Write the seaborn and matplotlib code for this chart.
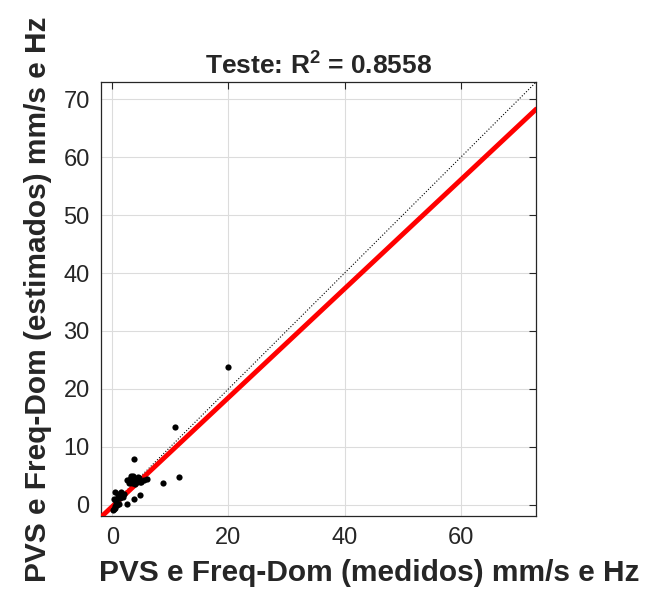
import numpy as np
import pandas as pd
import matplotlib
matplotlib.use("Agg")
import matplotlib.pyplot as plt
import seaborn as sns

medidos = [20.0, 10.7, 11.5, 8.8, 3.8, 4.7, 3.7, 2.5,
           2.6, 3.0, 3.3, 3.6, 4.0, 4.3, 4.6, 5.0, 5.5, 6.0, 3.2, 3.9, 4.4, 2.9, 3.5, 4.8,
           0.5, 1.5, 0.3, 0.6, 0.9, 1.2, 0.4, 0.8, 1.0, 0.2, 0.5, 1.3, 0.7, 0.1, 2.0, 1.8]
estimados = [23.7, 13.5, 4.7, 3.7, 7.9, 1.7, 1.0, 0.1,
             4.2, 4.5, 3.8, 4.9, 4.4, 3.9, 4.6, 4.0, 4.2, 4.4, 5.0, 3.6, 4.8, 3.7, 4.3, 3.9,
             2.2, 2.2, 1.0, 0.5, 1.5, 0.2, -0.5, 0.0, 1.8, -0.8, -0.2, 1.1, 0.8, -1.0, 1.9, 1.3]
fit_slope = 0.94
fit_intercept = -0.3
r2 = 0.8558
lims = [-2, 73]

df = pd.DataFrame({"medidos": medidos, "estimados": estimados})

sns.set_style("white")
plt.rcParams["font.family"] = ["Liberation Sans", "DejaVu Sans"]
plt.rcParams["mathtext.fontset"] = "custom"
plt.rcParams["mathtext.rm"] = "Liberation Sans"
plt.rcParams["mathtext.bf"] = "Liberation Sans:bold"

fig = plt.figure(figsize=(6.46, 5.90), dpi=100)
ax = fig.add_axes([0.156, 0.125, 0.674, 0.736])

x_line = np.array(lims)
ax.plot(x_line, x_line, color="black", linestyle=":", linewidth=0.8, zorder=2)
ax.plot(x_line, fit_slope * x_line + fit_intercept, color="red", linewidth=3.5, zorder=3)
sns.scatterplot(data=df, x="medidos", y="estimados", color="black", s=20,
                edgecolor="black", linewidth=0, ax=ax, zorder=4)

ax.set_xlim(lims)
ax.set_ylim(lims)
ax.set_xticks([0, 20, 40, 60])
ax.set_yticks(range(0, 71, 10))
ax.grid(True, color="#dcdcdc", linewidth=0.8)
ax.tick_params(direction="in", top=True, right=True, length=5, width=0.8,
               labelsize=17, colors="#262626", pad=8)
for sp in ax.spines.values():
    sp.set_color("#262626")
    sp.set_linewidth(0.9)

ax.set_title("Teste: $\\mathbf{R^{2}}$ = " + f"{r2:.4f}", fontsize=19,
             fontweight="bold", pad=5)
ax.set_xlabel("PVS e Freq-Dom (medidos) mm/s e Hz", fontsize=21.5,
              fontweight="bold", color="#262626")
ax.xaxis.set_label_coords(0.616, -0.098)
ax.set_ylabel("PVS e Freq-Dom (estimados) mm/s e Hz", fontsize=21.5,
              fontweight="bold", color="#262626", labelpad=8)

fig.savefig("out.png", dpi=100)
